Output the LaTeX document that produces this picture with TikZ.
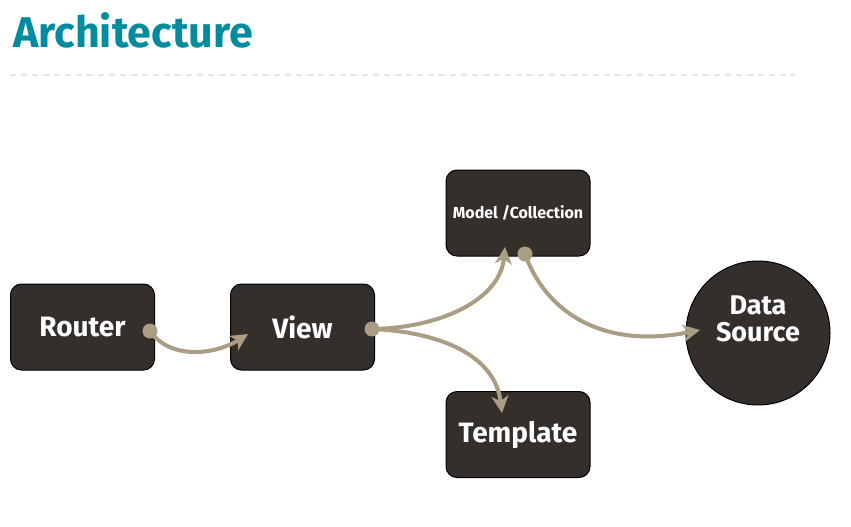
\documentclass[tikz,border=0pt]{standalone}
\usepackage{fontspec}
\setmainfont{Fira Sans}
\usetikzlibrary{arrows.meta}
\definecolor{teal1}{HTML}{008C9E}
\definecolor{boxc}{HTML}{352F2C}
\definecolor{linkc}{HTML}{AB9D83}
\definecolor{dashc}{HTML}{E6E6E6}
\tikzset{
  box/.style={draw=black, line width=1pt, fill=boxc, rounded corners=11pt, minimum width=144pt, minimum height=86pt, inner sep=0pt, text=white, font=\bfseries\fontsize{28}{30}\selectfont},
  link/.style={draw=linkc, line width=4pt, -{Stealth[length=17pt,width=17pt,inset=5pt]}},
  dotc/.style={circle, fill=linkc, inner sep=0pt, minimum size=15pt}
}
\begin{document}
\begin{tikzpicture}[x=1pt,y=-1pt]
\useasboundingbox (0,0) rectangle (851,527);
\node[anchor=west, text=teal1, font=\bfseries\fontsize{43}{46}\selectfont, inner sep=0pt] (title) at (13,30) {Architecture};
\draw[dashc, line width=1.5pt, dash pattern=on 6pt off 5pt] (10,75) -- (795,75);
\node[box] (router) at (82.5,327) {Router};
\node[box] (view) at (302.5,327) {View};
\node[box, font=\bfseries\fontsize{16}{18}\selectfont] (model) at (518,213) {Model /Collection};
\node[box] (template) at (518,434.5) {Template};
\node[draw=black, line width=1pt, fill=boxc, circle, minimum size=144pt, inner sep=0pt] (ds) at (758,333) {};
\node[text=white, align=center, font=\bfseries\fontsize{27}{27}\selectfont, inner sep=0pt] (dstext) at (758,319) {Data\\Source};
\coordinate (r1) at (150,331);
\coordinate (v1) at (372,329);
\coordinate (m1) at (525,254);
\coordinate (vin) at (248,334);
\coordinate (min) at (505,247);
\coordinate (tin) at (502,413);
\coordinate (dsin) at (700,330);
\draw[link] (r1) .. controls (170,360) and (215,355) .. (vin);
\draw[link] (v1) .. controls (440,328) and (500,300) .. (min);
\draw[link] (v1) .. controls (440,332) and (495,355) .. (tin);
\draw[link] (m1) .. controls (545,310) and (600,350) .. (dsin);
\node[dotc] (d1) at (r1) {};
\node[dotc] (d2) at (v1) {};
\node[dotc] (d3) at (m1) {};
\end{tikzpicture}
\end{document}
